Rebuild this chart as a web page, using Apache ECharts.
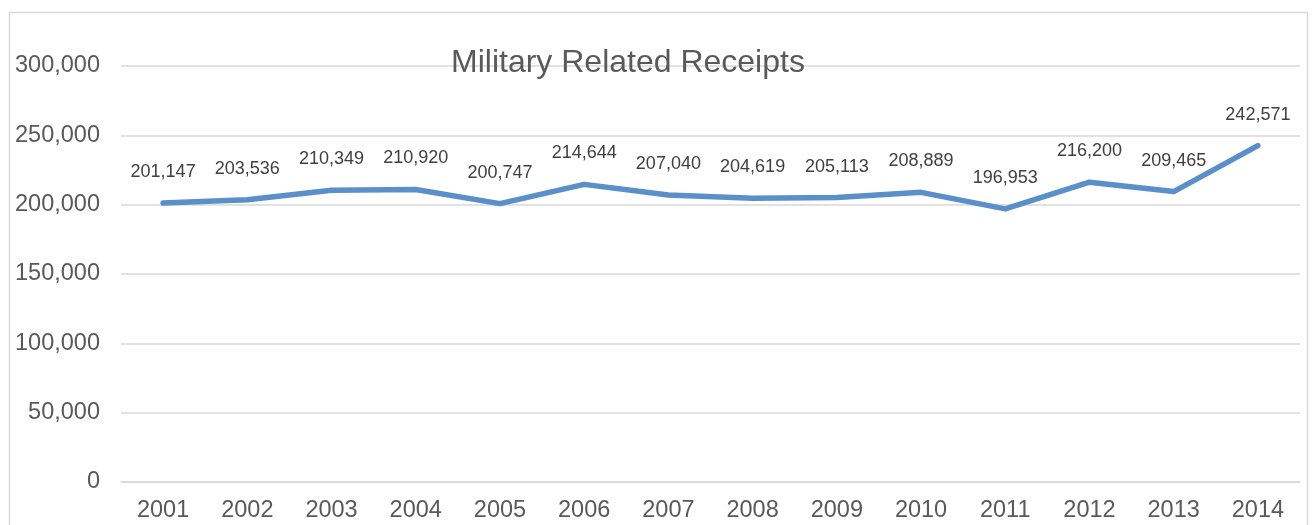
<!DOCTYPE html>
<html>
<head>
<meta charset="utf-8">
<script src="https://cdn.jsdelivr.net/npm/echarts@6/dist/echarts.min.js"></script>
<style>
  html, body { margin: 0; padding: 0; background: #fff; }
  #chart { width: 1313px; height: 525px; }
</style>
</head>
<body>
<div id="chart"></div>
<script>
// Military related receipts per year
const years = ['2001', '2002', '2003', '2004', '2005', '2006', '2007',
               '2008', '2009', '2010', '2011', '2012', '2013', '2014'];
const receipts = [201147, 203536, 210349, 210920, 200747, 214644, 207040,
                  204619, 205113, 208889, 196953, 216200, 209465, 242571];
const chartTitle = 'Military Related Receipts';

const fmt = v => v.toLocaleString('en-US');
const FONT = '"Liberation Sans", Arial, sans-serif';

const chart = echarts.init(document.getElementById('chart'), null, { renderer: 'canvas' });
chart.setOption({
  animation: false,
  backgroundColor: '#ffffff',
  graphic: [{
    type: 'rect',
    shape: { x: 9.5, y: 12.5, width: 1298, height: 600 },
    style: { fill: 'none', stroke: '#d9d9d9', lineWidth: 1.5 },
    silent: true,
    z: -1
  }],
  title: {
    text: chartTitle,
    left: 446,
    top: 42,
    textStyle: { fontFamily: FONT, fontSize: 32, fontWeight: 'normal', color: '#595959' }
  },
  grid: { left: 121, right: 13, top: 66, bottom: 43 },
  xAxis: {
    type: 'category',
    data: years,
    boundaryGap: true,
    axisLine: { show: true, lineStyle: { color: '#d9d9d9', width: 1.5 } },
    axisTick: { show: false },
    axisLabel: { fontFamily: FONT, fontSize: 23.5, color: '#595959', margin: 17 }
  },
  yAxis: {
    type: 'value',
    min: 0,
    max: 300000,
    interval: 50000,
    axisLine: { show: false },
    axisTick: { show: false },
    splitLine: { lineStyle: { color: '#d9d9d9', width: 1.5 } },
    axisLabel: { fontFamily: FONT, fontSize: 23.5, color: '#595959', margin: 21, formatter: v => fmt(v) }
  },
  series: [{
    type: 'line',
    data: receipts,
    showSymbol: true,
    symbol: 'circle',
    symbolSize: 2,
    itemStyle: { color: '#5b8fc9', borderWidth: 0 },
    lineStyle: { color: '#5b8fc9', width: 5.5, cap: 'round', join: 'round' },
    label: {
      show: true,
      position: 'top',
      distance: 21,
      fontFamily: FONT,
      fontSize: 18,
      color: '#404040',
      formatter: p => fmt(p.value)
    }
  }]
});
</script>
</body>
</html>
